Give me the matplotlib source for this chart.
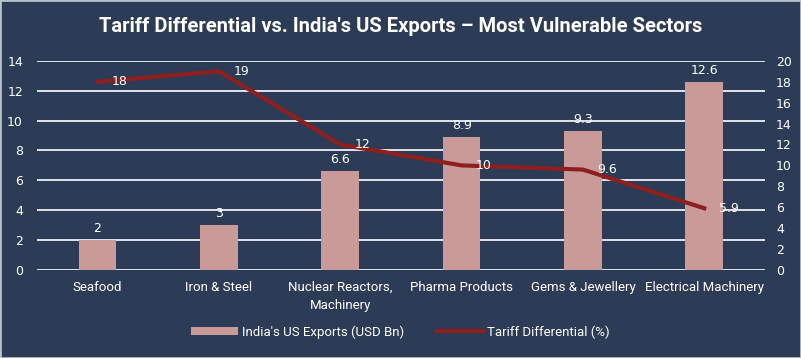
import matplotlib.pyplot as plt
import numpy as np

sectors = ["Seafood", "Iron & Steel", "Nuclear Reactors,\nMachinery",
           "Pharma Products", "Gems & Jewellery", "Electrical Machinery"]
exports = [2, 3, 6.6, 8.9, 9.3, 12.6]
tariff = [18, 19, 12, 10, 9.6, 5.9]

bg = "#2d3c56"
bar_col = "#c99a98"
line_col = "#8e1f1f"
txt = "white"
cond = ["Roboto", "DejaVu Sans"]

fig = plt.figure(figsize=(8.01, 3.58), dpi=100, facecolor=bg)
ax = fig.add_axes([0.046, 0.246, 0.909, 0.584])
ax.set_facecolor(bg)
ax2 = ax.twinx()

x = np.arange(len(sectors))

# bars: exports on left axis
ax.bar(x, exports, width=0.31, color=bar_col, zorder=2, label="India's US Exports (USD Bn)")
for xi, v in zip(x, exports):
    ax.text(xi, v + 0.35, f"{v:g}", ha="center", va="bottom", color=txt, fontsize=9)

ax.set_ylim(0, 14)
ax.set_yticks(range(0, 15, 2))
ax.set_xlim(-0.5, len(sectors) - 0.5)
ax.grid(axis="y", color="white", linewidth=1.2, zorder=0)
ax.set_axisbelow(True)

# line: tariff differential on right axis
ax2.plot(x, tariff, color=line_col, linewidth=3, zorder=3, label="Tariff Differential (%)")
for xi, v in zip(x, tariff):
    ax2.text(xi + 0.12, v, f"{v:g}", ha="left", va="center", color=txt, fontsize=9, zorder=4)
ax2.set_ylim(0, 20)
ax2.set_yticks(range(0, 21, 2))

for a in (ax, ax2):
    for s in a.spines.values():
        s.set_visible(False)
    a.tick_params(colors=txt, length=0, labelsize=9)

ax.set_xticks(x)
ax.set_xticklabels(sectors, fontsize=9.5, family=cond, linespacing=1.5)
ax.tick_params(axis="x", pad=8)
ax.tick_params(axis="y", pad=10)
ax2.tick_params(axis="y", pad=8)

fig.text(0.5, 0.925, "Tariff Differential vs. India's US Exports \u2013 Most Vulnerable Sectors",
         ha="center", va="center", color=txt, fontsize=14.5, fontweight="bold", family=cond)

h1, l1 = ax.get_legend_handles_labels()
h2, l2 = ax2.get_legend_handles_labels()
leg = fig.legend(h1 + h2, l1 + l2, loc="center", bbox_to_anchor=(0.5, 0.073), ncol=2,
                 frameon=False, handlelength=3.5, handleheight=0.6, handletextpad=0.3,
                 columnspacing=2.5, prop={"family": cond, "size": 9.5})
for t in leg.get_texts():
    t.set_color(txt)

fig.patches.append(plt.Rectangle((0, 0), 1, 1, transform=fig.transFigure, fill=False,
                                 edgecolor="#b8c0c8", linewidth=2))

fig.savefig("out.png", dpi=100, facecolor=bg)
